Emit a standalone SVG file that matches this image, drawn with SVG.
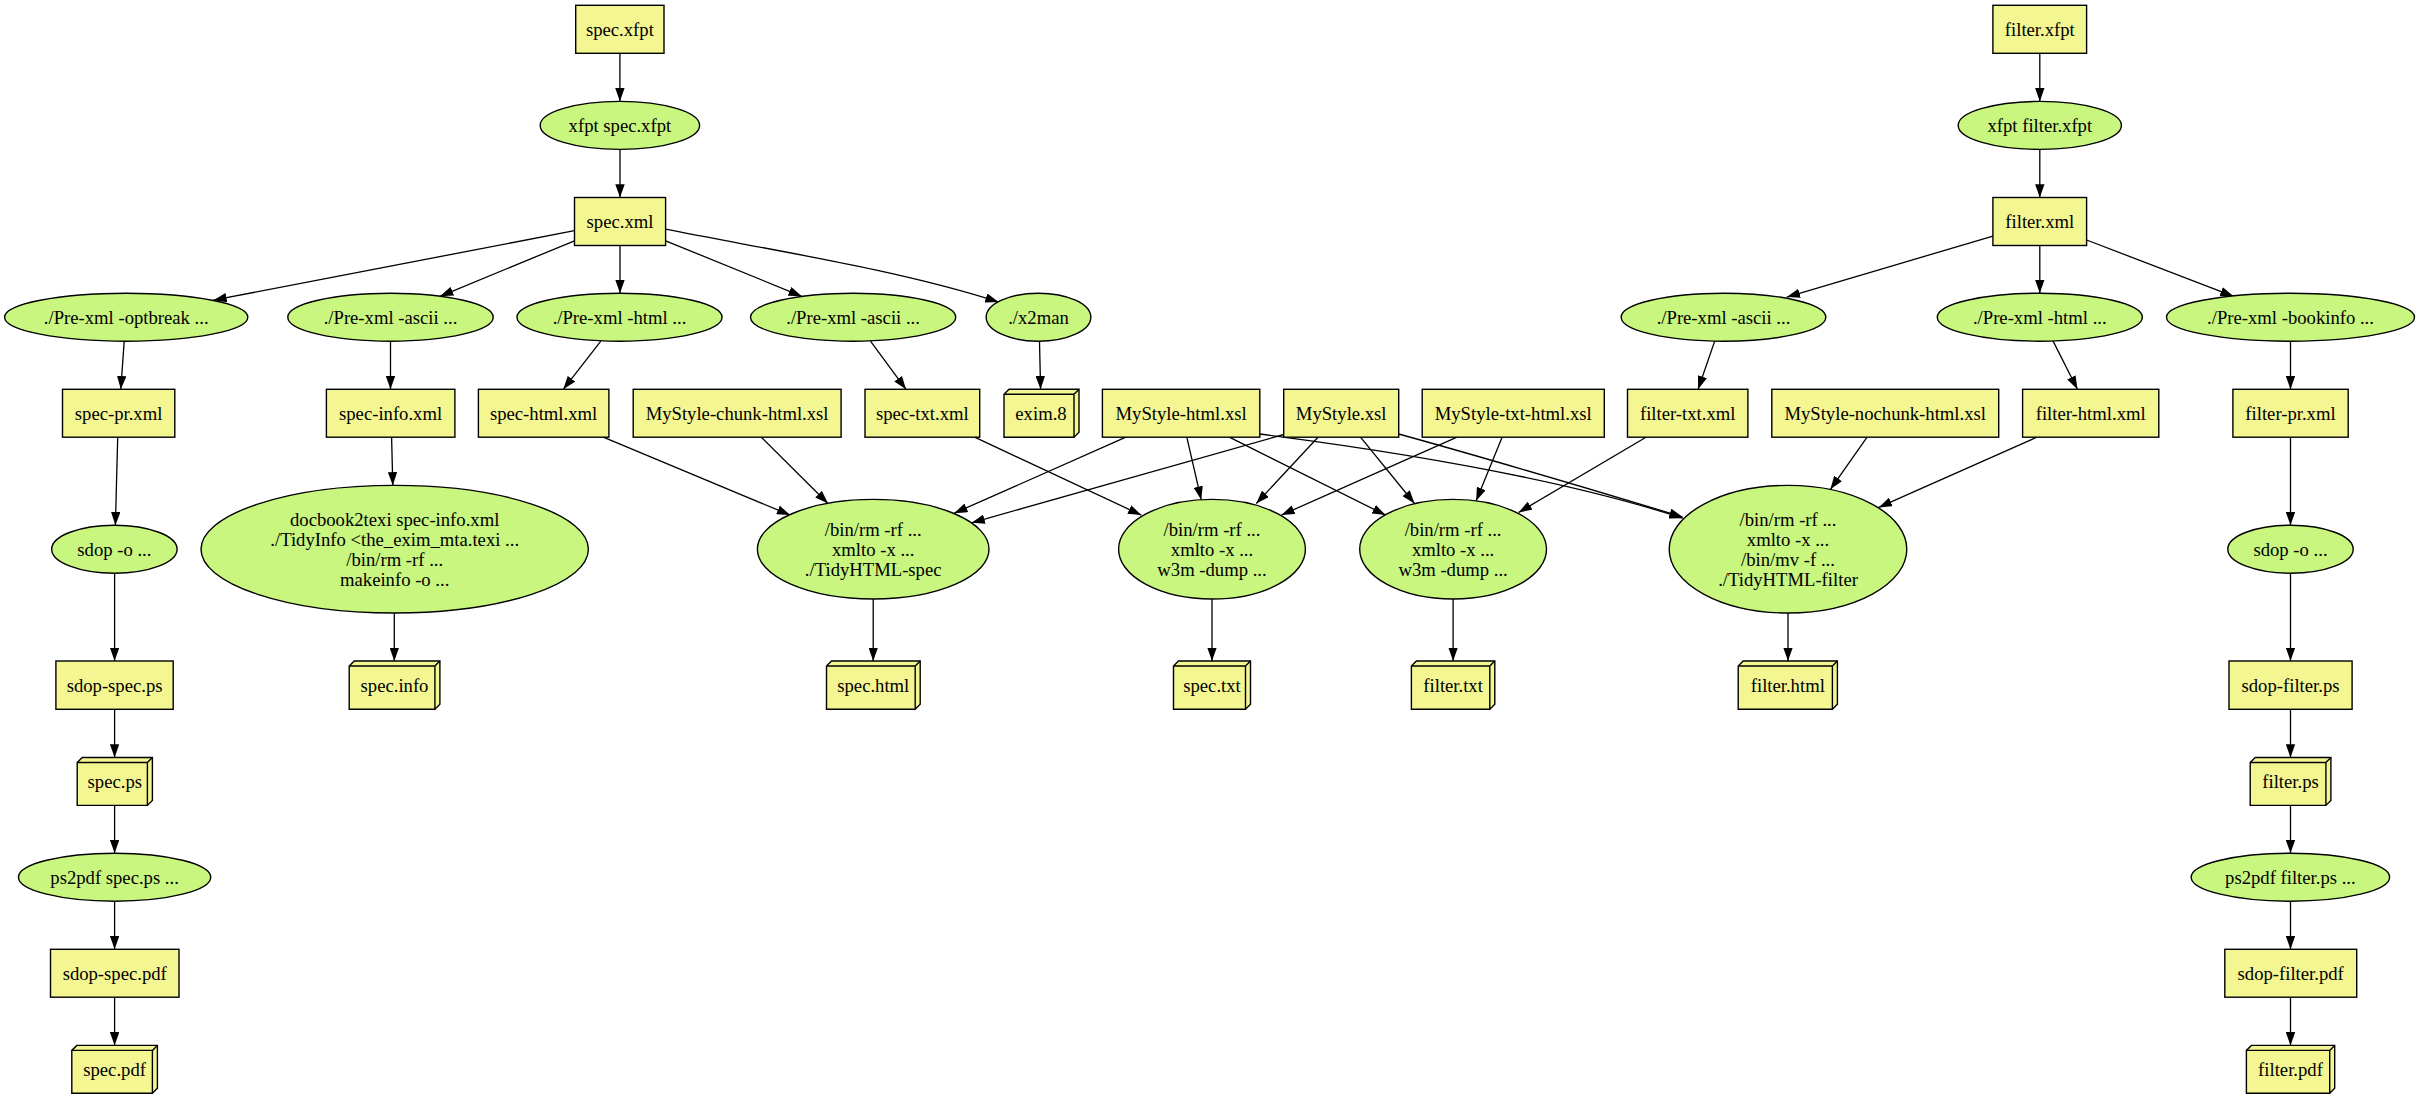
<svg xmlns="http://www.w3.org/2000/svg" width="2420" height="1099" viewBox="0 0 2420 1099">
<style>
.b{fill:#f4f691;stroke:#000;stroke-width:1.4}
.e{fill:#c9f67e;stroke:#000;stroke-width:1.4}
.l{fill:none;stroke:#000;stroke-width:1.4}
.c{fill:none;stroke:#000;stroke-width:1.3;marker-end:url(#ah)}
text{font-family:"Liberation Serif","Times New Roman",serif;font-size:18.67px;text-anchor:middle;fill:#000}
</style>
<defs>
<marker id="ah" viewBox="0 0 13.3 9.4" refX="13.3" refY="4.7" markerWidth="13.3" markerHeight="9.4" markerUnits="userSpaceOnUse" orient="auto">
<path d="M0,0 L13.3,4.7 L0,9.4 z" fill="#000"/>
</marker>
</defs>
<rect width="2420" height="1099" fill="#fff"/>
<g id="connectors">
<path class="c" d="M619.9,53.3 V101.4"/>
<path class="c" d="M620,149.4 V197.5"/>
<path class="c" d="M574.5,230.7 L213.4,300.2"/>
<path class="c" d="M574.5,240.8 L440,296.3"/>
<path class="c" d="M620,245.4 V293.2"/>
<path class="c" d="M665.6,240.8 L801.8,296.3"/>
<path class="c" d="M665.6,229.2 C770,250 900,270 998.6,302.1"/>
<path class="c" d="M124.2,341.1 L120.8,389.3"/>
<path class="c" d="M390.5,341.2 V389.3"/>
<path class="c" d="M600.8,341.1 L563.3,389.3"/>
<path class="c" d="M870.5,341.1 L906,389.3"/>
<path class="c" d="M1039.5,341.2 L1040.6,389.3"/>
<path class="c" d="M117.7,437.2 L115.4,525.3"/>
<path class="c" d="M391.6,437.2 L392.8,485.4"/>
<path class="c" d="M603.3,437.2 L790.2,515.1"/>
<path class="c" d="M761.3,437.2 L828,503.5"/>
<path class="c" d="M1125.9,437.2 L954.2,513.2"/>
<path class="c" d="M1283.7,434.5 L971.6,522.8"/>
<path class="c" d="M1186.8,437.2 L1201.2,499.7"/>
<path class="c" d="M974.6,437.2 L1141.3,515.1"/>
<path class="c" d="M1318,437.2 L1256.3,503.5"/>
<path class="c" d="M1457,437.2 L1281.4,515.1"/>
<path class="c" d="M1229.3,437.2 L1385.6,515.1"/>
<path class="c" d="M1360.5,437.2 L1414.5,503.5"/>
<path class="c" d="M1502.1,437.2 L1476.2,500.8"/>
<path class="c" d="M1646,437.2 L1518.7,512.4"/>
<path class="c" d="M1259.8,434 C1400,452 1560,478 1682.7,518.2"/>
<path class="c" d="M1398.7,434 C1500,462 1600,492 1682.7,517"/>
<path class="c" d="M1867.1,437.2 L1830.4,489.3"/>
<path class="c" d="M2036.9,437.2 L1878.7,507.4"/>
<path class="c" d="M394.3,613 V661"/>
<path class="c" d="M873.2,599 V661"/>
<path class="c" d="M1212,599 V661"/>
<path class="c" d="M1453.1,599 V661"/>
<path class="c" d="M1788,613 V661"/>
<path class="c" d="M114.6,573.2 V661"/>
<path class="c" d="M114.6,709.3 V757.5"/>
<path class="c" d="M114.6,805.4 V853.2"/>
<path class="c" d="M114.6,901.2 V949.3"/>
<path class="c" d="M114.6,997.2 V1045.4"/>
<path class="c" d="M2039.8,53.3 V101.4"/>
<path class="c" d="M2039.8,149.4 V197.5"/>
<path class="c" d="M1992.9,236.1 L1786.8,297.1"/>
<path class="c" d="M2039.8,245.4 V293.2"/>
<path class="c" d="M2086.6,240 L2233.6,296.3"/>
<path class="c" d="M1714.7,341.1 L1698.1,389.3"/>
<path class="c" d="M2053.1,341.1 L2077.4,389.3"/>
<path class="c" d="M2290.5,341.2 V389.3"/>
<path class="c" d="M2290.5,437.2 V525.3"/>
<path class="c" d="M2290.5,573.2 V661"/>
<path class="c" d="M2290.5,709.3 V757.5"/>
<path class="c" d="M2290.5,805.4 V853.2"/>
<path class="c" d="M2290.5,901.2 V949.3"/>
<path class="c" d="M2290.5,997.2 V1045.4"/>
</g>
<g id="spec_xfpt"><rect class="b" x="575.7" y="5.3" width="88.3" height="48"/><text x="619.9" y="35.8">spec.xfpt</text></g>
<g id="filter_xfpt"><rect class="b" x="1992.9" y="5.3" width="93.7" height="48"/><text x="2039.8" y="35.8">filter.xfpt</text></g>
<g id="xfpt_spec"><ellipse class="e" cx="619.9" cy="125.4" rx="79.7" ry="24"/><text x="619.9" y="131.9">xfpt spec.xfpt</text></g>
<g id="xfpt_filter"><ellipse class="e" cx="2039.8" cy="125.4" rx="81.6" ry="24"/><text x="2039.8" y="131.9">xfpt filter.xfpt</text></g>
<g id="spec_xml"><rect class="b" x="574.5" y="197.5" width="91.1" height="48"/><text x="620" y="227.9">spec.xml</text></g>
<g id="filter_xml"><rect class="b" x="1992.9" y="197.5" width="93.7" height="48"/><text x="2039.8" y="227.9">filter.xml</text></g>
<g id="pre_optbreak"><ellipse class="e" cx="126.2" cy="317.2" rx="121.6" ry="24"/><text x="126.2" y="323.7">./Pre-xml -optbreak ...</text></g>
<g id="pre_ascii_info"><ellipse class="e" cx="390.5" cy="317.2" rx="102.7" ry="24"/><text x="390.5" y="323.7">./Pre-xml -ascii ...</text></g>
<g id="pre_html_spec"><ellipse class="e" cx="619.5" cy="317.2" rx="102.5" ry="24"/><text x="619.5" y="323.7">./Pre-xml -html ...</text></g>
<g id="pre_ascii_txt"><ellipse class="e" cx="853.1" cy="317.2" rx="102.6" ry="24"/><text x="853.1" y="323.7">./Pre-xml -ascii ...</text></g>
<g id="x2man"><ellipse class="e" cx="1038.5" cy="317.2" rx="52.3" ry="24"/><text x="1038.5" y="323.7">./x2man</text></g>
<g id="pre_ascii_filter"><ellipse class="e" cx="1723.5" cy="317.2" rx="102.3" ry="24"/><text x="1723.5" y="323.7">./Pre-xml -ascii ...</text></g>
<g id="pre_html_filter"><ellipse class="e" cx="2039.8" cy="317.2" rx="102.5" ry="24"/><text x="2039.8" y="323.7">./Pre-xml -html ...</text></g>
<g id="pre_bookinfo"><ellipse class="e" cx="2290.5" cy="317.2" rx="124" ry="24"/><text x="2290.5" y="323.7">./Pre-xml -bookinfo ...</text></g>
<g id="spec_pr_xml"><rect class="b" x="62.5" y="389.3" width="112.3" height="47.9"/><text x="118.6" y="419.7">spec-pr.xml</text></g>
<g id="spec_info_xml"><rect class="b" x="326.4" y="389.3" width="128.5" height="47.9"/><text x="390.6" y="419.7">spec-info.xml</text></g>
<g id="spec_html_xml"><rect class="b" x="478.4" y="389.3" width="130.5" height="47.9"/><text x="543.6" y="419.7">spec-html.xml</text></g>
<g id="mystyle_chunk"><rect class="b" x="633.2" y="389.3" width="207.9" height="47.9"/><text x="737.1" y="419.7">MyStyle-chunk-html.xsl</text></g>
<g id="spec_txt_xml"><rect class="b" x="865" y="389.3" width="114.7" height="47.9"/><text x="922.3" y="419.7">spec-txt.xml</text></g>
<g id="exim8"><polygon class="b" points="1079,389.3 1009,389.3 1004,394.3 1004,437.2 1074,437.2 1079,432.2"/><path class="l" d="M1074,394.3 H1004 M1074,394.3 V437.2 M1074,394.3 L1079,389.3"/><text x="1041" y="419.7">exim.8</text></g>
<g id="mystyle_html"><rect class="b" x="1102.4" y="389.3" width="157.4" height="47.9"/><text x="1181.1" y="419.7">MyStyle-html.xsl</text></g>
<g id="mystyle"><rect class="b" x="1283.7" y="389.3" width="115" height="47.9"/><text x="1341.2" y="419.7">MyStyle.xsl</text></g>
<g id="mystyle_txt_html"><rect class="b" x="1422.2" y="389.3" width="182.1" height="47.9"/><text x="1513.2" y="419.7">MyStyle-txt-html.xsl</text></g>
<g id="filter_txt_xml"><rect class="b" x="1627.5" y="389.3" width="120.4" height="47.9"/><text x="1687.7" y="419.7">filter-txt.xml</text></g>
<g id="mystyle_nochunk"><rect class="b" x="1771.8" y="389.3" width="226.9" height="47.9"/><text x="1885.2" y="419.7">MyStyle-nochunk-html.xsl</text></g>
<g id="filter_html_xml"><rect class="b" x="2022.6" y="389.3" width="136.2" height="47.9"/><text x="2090.7" y="419.7">filter-html.xml</text></g>
<g id="filter_pr_xml"><rect class="b" x="2232.9" y="389.3" width="115.3" height="47.9"/><text x="2290.5" y="419.7">filter-pr.xml</text></g>
<g id="sdop_spec"><ellipse class="e" cx="114.4" cy="549.2" rx="62.7" ry="24"/><text x="114.4" y="555.7">sdop -o ...</text></g>
<g id="docbook2texi"><ellipse class="e" cx="394.7" cy="549.2" rx="193.7" ry="63.8"/><text x="394.7" y="525.6">docbook2texi spec-info.xml</text><text x="394.7" y="545.7">./TidyInfo &lt;the_exim_mta.texi ...</text><text x="394.7" y="565.8">/bin/rm -rf ...</text><text x="394.7" y="585.9">makeinfo -o ...</text></g>
<g id="xmlto_spec_html"><ellipse class="e" cx="873.2" cy="549.2" rx="115.8" ry="49.8"/><text x="873.2" y="535.6">/bin/rm -rf ...</text><text x="873.2" y="555.7">xmlto -x ...</text><text x="873.2" y="575.8">./TidyHTML-spec</text></g>
<g id="xmlto_spec_txt"><ellipse class="e" cx="1212" cy="549.2" rx="93.4" ry="49.8"/><text x="1212" y="535.6">/bin/rm -rf ...</text><text x="1212" y="555.7">xmlto -x ...</text><text x="1212" y="575.8">w3m -dump ...</text></g>
<g id="xmlto_filter_txt"><ellipse class="e" cx="1453.1" cy="549.2" rx="93.4" ry="49.8"/><text x="1453.1" y="535.6">/bin/rm -rf ...</text><text x="1453.1" y="555.7">xmlto -x ...</text><text x="1453.1" y="575.8">w3m -dump ...</text></g>
<g id="xmlto_filter_html"><ellipse class="e" cx="1788" cy="549.2" rx="118.8" ry="63.8"/><text x="1788" y="525.6">/bin/rm -rf ...</text><text x="1788" y="545.7">xmlto -x ...</text><text x="1788" y="565.8">/bin/mv -f ...</text><text x="1788" y="585.9">./TidyHTML-filter</text></g>
<g id="sdop_filter"><ellipse class="e" cx="2290.5" cy="549.2" rx="62.7" ry="24"/><text x="2290.5" y="555.7">sdop -o ...</text></g>
<g id="sdop_spec_ps"><rect class="b" x="55.9" y="661" width="117.3" height="48.3"/><text x="114.6" y="691.7">sdop-spec.ps</text></g>
<g id="spec_info"><polygon class="b" points="439.9,661 354.2,661 349.2,666 349.2,709.3 434.9,709.3 439.9,704.3"/><path class="l" d="M434.9,666 H349.2 M434.9,666 V709.3 M434.9,666 L439.9,661"/><text x="394.5" y="691.7">spec.info</text></g>
<g id="spec_html"><polygon class="b" points="920.2,661 831.5,661 826.5,666 826.5,709.3 915.2,709.3 920.2,704.3"/><path class="l" d="M915.2,666 H826.5 M915.2,666 V709.3 M915.2,666 L920.2,661"/><text x="873.3" y="691.7">spec.html</text></g>
<g id="spec_txt"><polygon class="b" points="1250.5,661 1178.5,661 1173.5,666 1173.5,709.3 1245.5,709.3 1250.5,704.3"/><path class="l" d="M1245.5,666 H1173.5 M1245.5,666 V709.3 M1245.5,666 L1250.5,661"/><text x="1212" y="691.7">spec.txt</text></g>
<g id="filter_txt"><polygon class="b" points="1494.8,661 1416.4,661 1411.4,666 1411.4,709.3 1489.8,709.3 1494.8,704.3"/><path class="l" d="M1489.8,666 H1411.4 M1489.8,666 V709.3 M1489.8,666 L1494.8,661"/><text x="1453.1" y="691.7">filter.txt</text></g>
<g id="filter_html"><polygon class="b" points="1837.4,661 1743.2,661 1738.2,666 1738.2,709.3 1832.4,709.3 1837.4,704.3"/><path class="l" d="M1832.4,666 H1738.2 M1832.4,666 V709.3 M1832.4,666 L1837.4,661"/><text x="1787.8" y="691.7">filter.html</text></g>
<g id="sdop_filter_ps"><rect class="b" x="2229" y="661" width="123.1" height="48.3"/><text x="2290.5" y="691.7">sdop-filter.ps</text></g>
<g id="spec_ps"><polygon class="b" points="152.4,757.5 82.2,757.5 77.2,762.5 77.2,805.4 147.4,805.4 152.4,800.4"/><path class="l" d="M147.4,762.5 H77.2 M147.4,762.5 V805.4 M147.4,762.5 L152.4,757.5"/><text x="114.8" y="787.9">spec.ps</text></g>
<g id="filter_ps"><polygon class="b" points="2330.9,757.5 2255.2,757.5 2250.2,762.5 2250.2,805.4 2325.9,805.4 2330.9,800.4"/><path class="l" d="M2325.9,762.5 H2250.2 M2325.9,762.5 V805.4 M2325.9,762.5 L2330.9,757.5"/><text x="2290.5" y="787.9">filter.ps</text></g>
<g id="ps2pdf_spec"><ellipse class="e" cx="114.6" cy="877.2" rx="96.1" ry="24"/><text x="114.6" y="883.7">ps2pdf spec.ps ...</text></g>
<g id="ps2pdf_filter"><ellipse class="e" cx="2290.4" cy="877.2" rx="99.2" ry="24"/><text x="2290.4" y="883.7">ps2pdf filter.ps ...</text></g>
<g id="sdop_spec_pdf"><rect class="b" x="50.5" y="949.3" width="128.5" height="47.9"/><text x="114.7" y="979.7">sdop-spec.pdf</text></g>
<g id="sdop_filter_pdf"><rect class="b" x="2224.8" y="949.3" width="131.9" height="47.9"/><text x="2290.7" y="979.7">sdop-filter.pdf</text></g>
<g id="spec_pdf"><polygon class="b" points="157.4,1045.4 76.8,1045.4 71.8,1050.4 71.8,1093.2 152.4,1093.2 157.4,1088.2"/><path class="l" d="M152.4,1050.4 H71.8 M152.4,1050.4 V1093.2 M152.4,1050.4 L157.4,1045.4"/><text x="114.6" y="1075.8">spec.pdf</text></g>
<g id="filter_pdf"><polygon class="b" points="2334.7,1045.4 2251.4,1045.4 2246.4,1050.4 2246.4,1093.2 2329.7,1093.2 2334.7,1088.2"/><path class="l" d="M2329.7,1050.4 H2246.4 M2329.7,1050.4 V1093.2 M2329.7,1050.4 L2334.7,1045.4"/><text x="2290.5" y="1075.8">filter.pdf</text></g>
</svg>
